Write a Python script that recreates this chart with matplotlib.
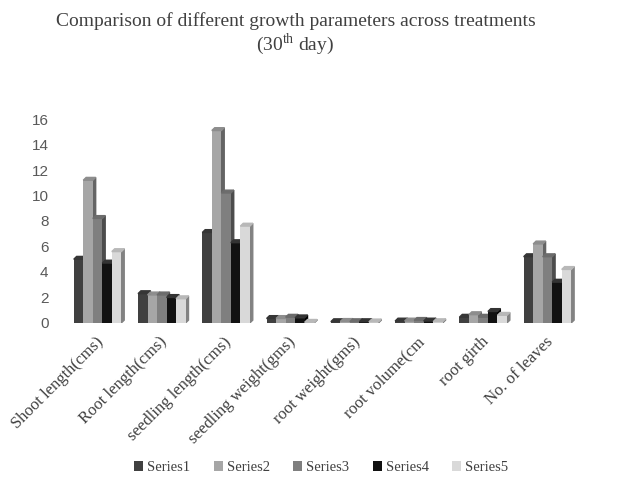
import numpy as np
import matplotlib.pyplot as plt
from matplotlib.patches import Polygon

plt.rcParams['mathtext.fontset'] = 'custom'
plt.rcParams['mathtext.rm'] = 'Liberation Serif'

categories = ['Shoot length(cms)', 'Root length(cms)', 'seedling length(cms)',
              'seedling weight(gms)', 'root weight(gms)', 'root volume(cm',
              'root girth', 'No. of leaves']
series_names = ['Series1', 'Series2', 'Series3', 'Series4', 'Series5']
series1 = [5.0, 2.3, 7.1, 0.35, 0.10, 0.15, 0.45, 5.2]
series2 = [11.2, 2.2, 15.1, 0.35, 0.12, 0.15, 0.65, 6.2]
series3 = [8.2, 2.2, 10.2, 0.45, 0.10, 0.20, 0.45, 5.2]
series4 = [4.7, 2.0, 6.3, 0.40, 0.10, 0.15, 0.90, 3.2]
series5 = [5.6, 1.9, 7.6, 0.05, 0.08, 0.10, 0.60, 4.2]
colors = ['#404040', '#a6a6a6', '#7f7f7f', '#111111', '#d9d9d9']


def shade(c, f):
    rgb = np.array(plt.matplotlib.colors.to_rgb(c))
    return tuple(np.clip(rgb * f, 0, 1))


fig = plt.figure(figsize=(6.18, 4.82), dpi=100)
ax = fig.add_axes([0.110, 0.330, 0.832, 0.423])

data = [series1, series2, series3, series4, series5]
x = np.arange(len(categories))
w = 0.148
dx, dy = 0.045, 0.22  # depth of the fake 3d faces
for i, (vals, c) in enumerate(zip(data, colors)):
    xs = x - 2.5 * w - 0.04 + i * w
    ax.bar(xs, vals, width=w, align='edge', color=c, label=series_names[i], zorder=3 + i)
    for xi, v in zip(xs, vals):
        side = Polygon([(xi + w, 0), (xi + w + dx, dy), (xi + w + dx, v + dy), (xi + w, v)],
                       closed=True, color=shade(c, 0.6) if c != '#111111' else '#000000', zorder=2 + i)
        top = Polygon([(xi, v), (xi + dx, v + dy), (xi + w + dx, v + dy), (xi + w, v)],
                      closed=True, color=shade(c, 0.85) if c != '#111111' else '#333333', zorder=3 + i)
        ax.add_patch(side)
        ax.add_patch(top)

ax.set_xlim(-0.5, len(categories) - 0.5)
ax.set_ylim(0, 16)
ax.set_yticks(range(0, 17, 2))
for s in ax.spines.values():
    s.set_visible(False)
ax.tick_params(axis='both', length=0)
ax.tick_params(axis='y', labelsize=11, labelcolor='#595959', pad=14)
for lab in ax.get_yticklabels():
    lab.set_family('Liberation Sans')
ax.set_xticks(x - 0.08)
ax.set_xticklabels(categories, rotation=45, ha='right', rotation_mode='anchor',
                   family='Liberation Serif', fontsize=12, color='#404040')
ax.tick_params(axis='x', pad=8)

fig.text(0.478, 0.957, 'Comparison of different growth parameters across treatments',
         ha='center', va='center', family='Liberation Serif', fontsize=14, color='#404040')
fig.text(0.478, 0.908, r'(30$^{\mathrm{th}}$ day)', ha='center', va='center',
         family='Liberation Serif', fontsize=14, color='#404040')

handles, labels = ax.get_legend_handles_labels()
fig.legend(handles, labels, loc='center', bbox_to_anchor=(0.52, 0.03), ncol=5, frameon=False,
           prop={'family': 'Liberation Serif', 'size': 10.5}, handlelength=0.6, handleheight=0.6,
           handletextpad=0.3, columnspacing=1.6, labelcolor='#404040')

fig.savefig('out.png', dpi=100)
